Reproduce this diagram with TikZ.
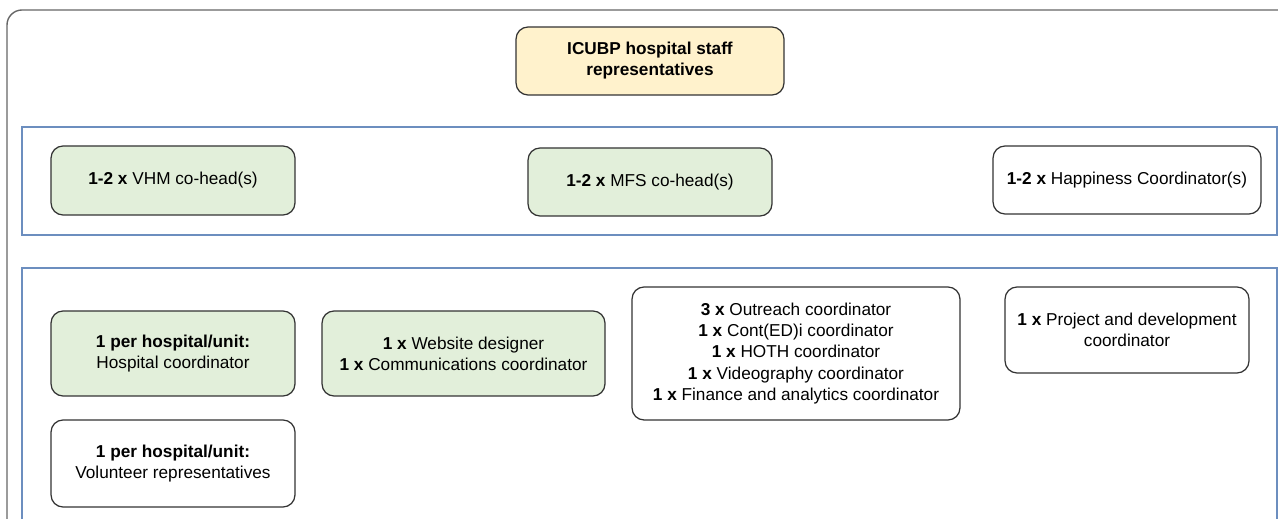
\documentclass[tikz,border=0pt]{standalone}
\usepackage{fontspec}
\setmainfont{Liberation Sans}
\usetikzlibrary{positioning}
\definecolor{roleline}{HTML}{333333}
\definecolor{frameline}{HTML}{666666}
\definecolor{groupblue}{HTML}{6C8EBF}
\definecolor{headfill}{HTML}{FFF2CC}
\definecolor{leadfill}{HTML}{E2EFDA}

\begin{document}
\begin{tikzpicture}[x=0.02cm, y=-0.02cm,
    every node/.style={font=\fontsize{9.8}{12}\selectfont},
    role/.style={draw=roleline, line width=0.7pt, rounded corners=0.24cm,
                 align=center, inner sep=0pt, minimum width=4.88cm},
    lead/.style={role, fill=leadfill},
    head/.style={role, fill=headfill},
    group/.style={draw=groupblue, line width=0.6pt}]
    \clip (0,0) rectangle (1278,519);
    \useasboundingbox (0,0) rectangle (1278,519);

    % outer frame and the two blue groups
    \draw[frameline, line width=0.8pt, rounded corners=0.3cm] (7,10) rectangle (1320,560);
    \draw[group] (22,127) rectangle (1277,235);
    \draw[group] (22,268) rectangle (1277,560);

    \node[head, minimum width=5.36cm, minimum height=1.36cm] at (650,61) (staff)
        {\textbf{ICUBP hospital staff}\\\textbf{representatives}};

    \node[lead, minimum height=1.38cm] at (173,180.5) (vhm) {\textbf{1-2 x} VHM co-head(s)};
    \node[lead, minimum height=1.36cm] at (650,182) (mfs) {\textbf{1-2 x} MFS co-head(s)};
    \node[role, minimum width=5.36cm, minimum height=1.36cm] at (1127,180) (happy)
        {\textbf{1-2 x} Happiness Coordinator(s)};

    \node[lead, minimum height=1.7cm] at (173,353.5) (hosp)
        {\textbf{1 per hospital/unit:}\\Hospital coordinator};
    \node[lead, minimum width=5.66cm, minimum height=1.7cm] at (463.5,353.5) (web)
        {\textbf{1 x} Website designer\\\textbf{1 x} Communications coordinator};
    \node[role, minimum width=6.56cm, minimum height=2.66cm] at (796,353.5) (outreach)
        {\textbf{3 x} Outreach coordinator\\\textbf{1 x} Cont(ED)i coordinator\\
         \textbf{1 x} HOTH coordinator\\\textbf{1 x} Videography coordinator\\
         \textbf{1 x} Finance and analytics coordinator};
    \node[role, minimum height=1.72cm] at (1127,330) (project)
        {\textbf{1 x} Project and development\\coordinator};
    \node[role, minimum height=1.74cm] at (173,463.5) (vol)
        {\textbf{1 per hospital/unit:}\\Volunteer representatives};
\end{tikzpicture}
\end{document}
